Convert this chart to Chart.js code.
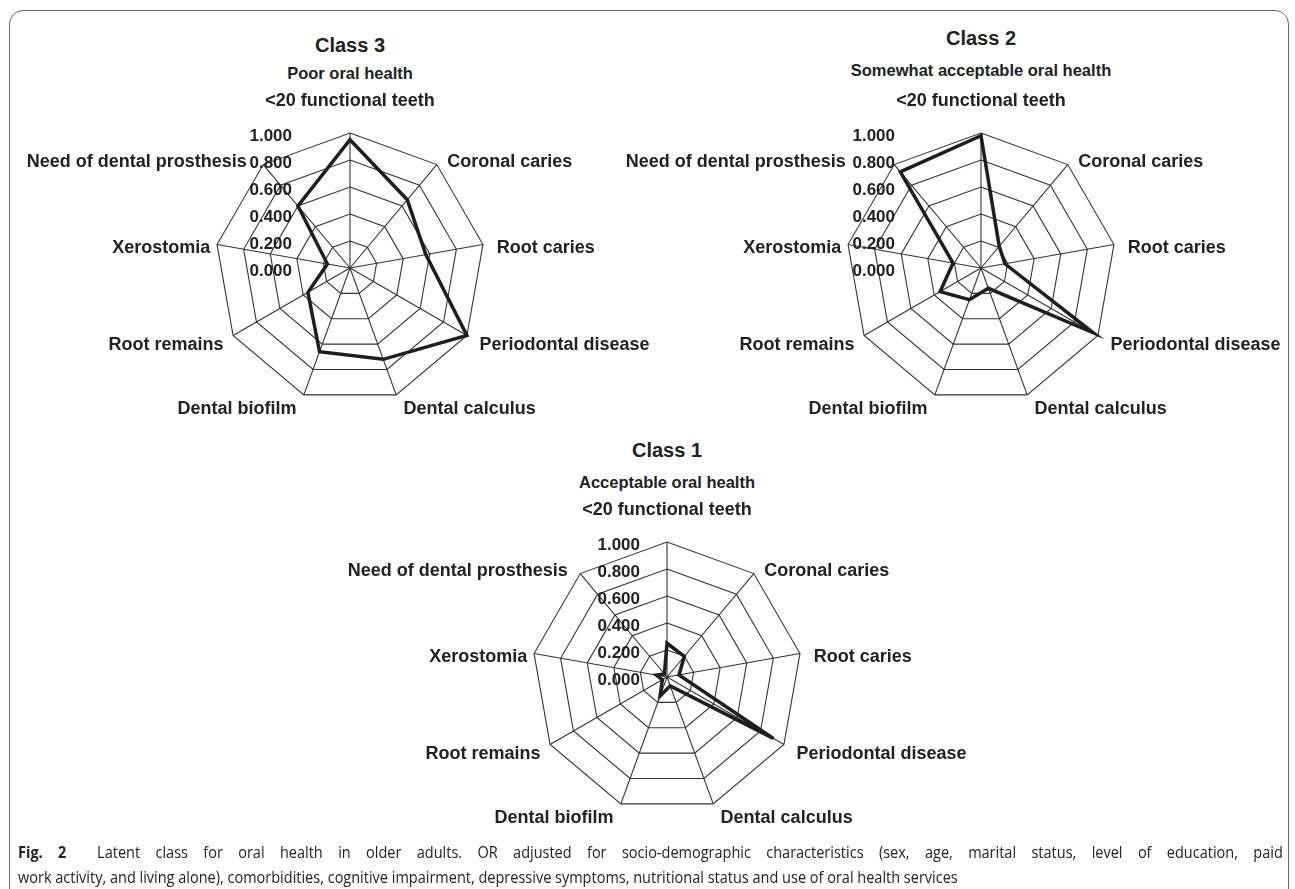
<!DOCTYPE html>
<html>
<head>
<meta charset="utf-8">
<script src="https://cdn.jsdelivr.net/npm/chart.js@4.4.1/dist/chart.umd.min.js"></script>
<style>
  html, body { margin: 0; padding: 0; background: #fff; overflow: hidden; }
  body { width: 1295px; height: 889px; position: relative; font-family: "Liberation Sans", Arial, sans-serif; color: #222; }
  .frame { position: absolute; left: 9px; top: 10px; width: 1280px; height: 920px; border: 1.5px solid #666; border-radius: 14px; box-sizing: border-box; }
  canvas { position: absolute; }
  .t { position: absolute; transform: translate(-50%, -50%); white-space: nowrap; font-weight: bold; line-height: 1; }
  .t1 { font-size: 20px; }
  .t2 { font-size: 16.5px; }
  .cap { position: absolute; left: 18px; width: 1396px; font-family: "Open Sans", sans-serif; font-size: 16px; white-space: nowrap; color: #222; line-height: 1; transform: translateY(-50%) scaleX(0.906); transform-origin: left center; }
  .cap.just { white-space: normal; text-align: justify; text-align-last: justify; }
</style>
</head>
<body>
<div class="frame"></div>

<div class="t t1" style="left:350px;top:45px">Class 3</div>
<div class="t t2" style="left:350px;top:73px">Poor oral health</div>
<div class="t t1" style="left:981px;top:38px">Class 2</div>
<div class="t t2" style="left:981px;top:70px">Somewhat acceptable oral health</div>
<div class="t t1" style="left:667px;top:450px">Class 1</div>
<div class="t t2" style="left:667px;top:482px">Acceptable oral health</div>

<canvas id="class3" width="680" height="360" style="left:0px;top:83px"></canvas>
<canvas id="class2" width="680" height="360" style="left:610px;top:83px"></canvas>
<canvas id="class1" width="660" height="360" style="left:320px;top:492px"></canvas>

<div class="cap just" style="top:852px"><b>Fig. 2</b>&nbsp; Latent class for oral health in older adults. OR adjusted for socio-demographic characteristics (sex, age, marital status, level of education, paid</div>
<div class="cap" style="top:877px">work activity, and living alone), comorbidities, cognitive impairment, depressive symptoms, nutritional status and use of oral health services</div>

<script>
const categories = [
  "<20 functional teeth",
  "Coronal caries",
  "Root caries",
  "Periodontal disease",
  "Dental calculus",
  "Dental biofilm",
  "Root remains",
  "Xerostomia",
  "Need of dental prosthesis",
];
const class3Values = [0.95, 0.66, 0.57, 1.0, 0.72, 0.66, 0.36, 0.17, 0.6];
const class2Values = [0.98, 0.21, 0.18, 0.96, 0.16, 0.25, 0.35, 0.21, 0.93];
const class1Values = [0.25, 0.2, 0.09, 0.91, 0.07, 0.15, 0.04, 0.08, 0.03];
const tickStep = 0.2;

const labelFont = 'bold 18px "Liberation Sans", Arial, sans-serif';
const tickFont = 'bold 17px "Liberation Sans", Arial, sans-serif';

// draws the point labels and the tick labels next to the top axis, like excel does
const radarText = {
  id: "radarText",
  afterDraw(chart, args, opts) {
    const ctx = chart.ctx;
    const scale = chart.scales.r;
    const r = scale.drawingArea;
    ctx.save();
    ctx.fillStyle = "#222";
    ctx.font = tickFont;
    ctx.textAlign = "right";
    ctx.textBaseline = "middle";
    scale.ticks.forEach((tick) => {
      const d = scale.getDistanceFromCenterForValue(tick.value);
      ctx.fillText(tick.value.toFixed(3), scale.xCenter + opts.tickX, scale.yCenter - d + 3);
    });

    ctx.font = labelFont;
    chart.data.labels.forEach((label, i) => {
      const outer = scale.getPointPosition(i, r);
      if (i === 0) {
        ctx.textAlign = "center";
        ctx.fillText(label, outer.x, outer.y - 32);
        return;
      }
      const p = scale.getPointPosition(i, r + 10);
      const right = p.x > scale.xCenter;
      ctx.textAlign = right ? "left" : "right";
      const shift = opts.shiftX[i] || 0;
      ctx.fillText(label, p.x + (right ? 4 : -4) + shift, p.y + 5);
    });
    ctx.restore();
  },
};

function makeRadar(id, values, pad, tickX, ndpShift) {
  return new Chart(document.getElementById(id).getContext("2d"), {
    type: "radar",
    data: {
      labels: categories,
      datasets: [
        {
          data: values,
          borderColor: "#1e1e1e",
          borderWidth: 3.5,
          borderJoinStyle: "miter",
          backgroundColor: "rgba(0,0,0,0)",
          fill: false,
          pointRadius: 0,
          tension: 0,
        },
      ],
    },
    options: {
      responsive: false,
      animation: false,
      devicePixelRatio: 1,
      layout: { padding: pad },
      plugins: {
        legend: { display: false },
        tooltip: { enabled: false },
        radarText: { tickX: tickX, shiftX: [0, 0, 0, 0, 0, 0, 3, 7, ndpShift] },
      },
      scales: {
        r: {
          min: 0,
          max: 1,
          ticks: { display: false, stepSize: tickStep },
          pointLabels: { display: false },
          grid: { color: "#333", lineWidth: 1.1 },
          angleLines: { color: "#333", lineWidth: 1.1 },
        },
      },
    },
    plugins: [radarText],
  });
}

// canvas 680x360, drawing area 270 => center at (left+padL+135, top+padT+135)
makeRadar("class3", class3Values, { left: 215, right: 195, top: 50, bottom: 40 }, -58, -6);
makeRadar("class2", class2Values, { left: 236, right: 174, top: 50, bottom: 40 }, -86, -38);
makeRadar("class1", class1Values, { left: 212, right: 178, top: 50, bottom: 40 }, -27, -2);
</script>
</body>
</html>
